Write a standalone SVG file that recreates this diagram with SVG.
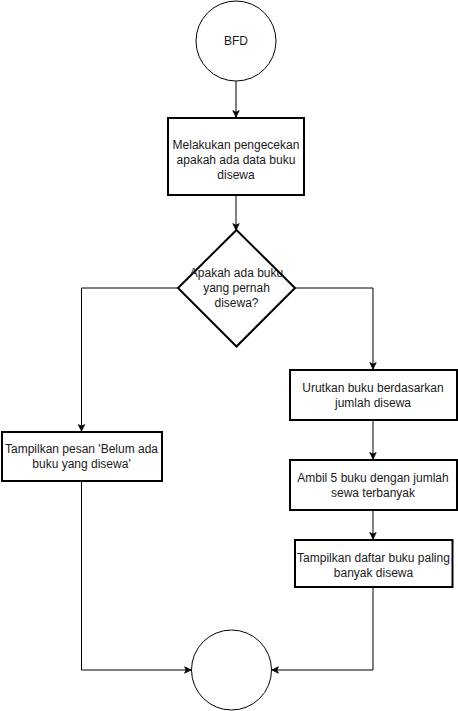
<svg xmlns="http://www.w3.org/2000/svg" width="458" height="711" viewBox="0 0 458 711">
<style>
.t{font-family:"Liberation Sans",Arial,sans-serif;font-size:12px;fill:#1a1a1a;text-anchor:middle}
.box{fill:#fff;stroke:#000;stroke-width:2}
.dia{fill:#fff;stroke:#000;stroke-width:2}
.shape{fill:#fff;stroke:#000;stroke-width:1}
.c{fill:none;stroke:#000;stroke-width:1}
</style>
<defs>
<marker id="arr" viewBox="0 0 10 10" refX="9" refY="5" markerWidth="8" markerHeight="8" markerUnits="userSpaceOnUse" orient="auto">
<path d="M1,1 L9,5 L1,9 L3,5 z" fill="#000" stroke="#000" stroke-width="1"/>
</marker>
</defs>
<rect width="458" height="711" fill="#fff"/>
<g id="connectors">
<path class="c" d="M236,81 L236,117" marker-end="url(#arr)"/>
<path class="c" d="M236,196 L236,230" marker-end="url(#arr)"/>
<path class="c" d="M178,288 L81.5,288 L81.5,431" marker-end="url(#arr)"/>
<path class="c" d="M295,288 L373,288 L373,369" marker-end="url(#arr)"/>
<path class="c" d="M373,421 L373,459" marker-end="url(#arr)"/>
<path class="c" d="M373,511 L373,539" marker-end="url(#arr)"/>
<path class="c" d="M81.5,481 L81.5,670 L191,670" marker-end="url(#arr)"/>
<path class="c" d="M373,588 L373,670 L272,670" marker-end="url(#arr)"/>
</g>
<g id="start">
<circle class="shape" cx="236" cy="41" r="40"/>
<text class="t" x="236" y="45">BFD</text>
</g>
<g id="check">
<rect class="box" x="168" y="118" width="136" height="77"/>
<text class="t" x="236" y="149">Melakukan pengecekan</text>
<text class="t" x="236" y="164">apakah ada data buku</text>
<text class="t" x="236" y="179">disewa</text>
</g>
<g id="decision">
<path class="dia" d="M236.5,230 L295,288 L236.5,346.5 L178,288 Z"/>
<text class="t" x="236.5" y="277">Apakah ada buku</text>
<text class="t" x="236.5" y="292">yang pernah</text>
<text class="t" x="236.5" y="307">disewa?</text>
</g>
<g id="empty-msg">
<rect class="box" x="2" y="432" width="160" height="49"/>
<text class="t" x="81.5" y="453">Tampilkan pesan 'Belum ada</text>
<text class="t" x="81.5" y="468">buku yang disewa'</text>
</g>
<g id="sort">
<rect class="box" x="290" y="370" width="167" height="50"/>
<text class="t" x="373" y="392">Urutkan buku berdasarkan</text>
<text class="t" x="373" y="407">jumlah disewa</text>
</g>
<g id="take5">
<rect class="box" x="290" y="460" width="167" height="50"/>
<text class="t" x="373" y="482">Ambil 5 buku dengan jumlah</text>
<text class="t" x="373" y="497">sewa terbanyak</text>
</g>
<g id="show">
<rect class="box" x="295" y="540" width="157.5" height="47"/>
<text class="t" x="373.5" y="562">Tampilkan daftar buku paling</text>
<text class="t" x="373.5" y="577">banyak disewa</text>
</g>
<g id="end">
<circle class="shape" cx="231.5" cy="670" r="40"/>
</g>
</svg>
